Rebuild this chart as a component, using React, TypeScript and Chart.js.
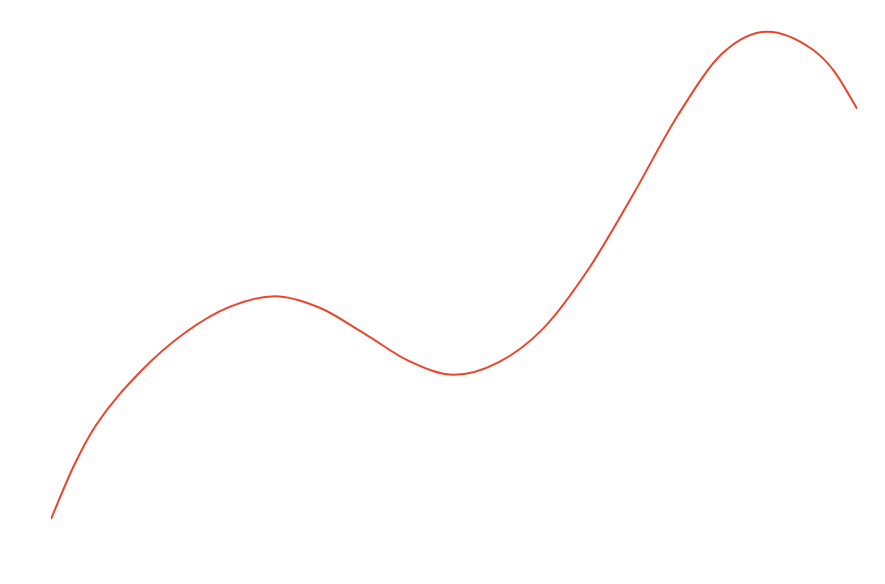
import React, { useEffect, useRef } from "react";
import { Chart, registerables } from "chart.js";

Chart.register(...registerables);

const xPositions = [
  0, 0.5, 1, 2, 3, 4, 5, 6, 7, 8, 9, 10,
  11, 12, 13, 14, 15, 16, 17, 17.5, 18,
];
const seriesValues = [
  9.1, 18.6, 26.1, 35.9, 43.0, 47.7, 49.6, 47.5, 42.8, 37.8, 35.3,
  37.6, 43.8, 54.5, 68.1, 82.5, 93.8, 97.7, 94.5, 90.4, 83.7,
];
const lineColor = "rgb(236, 68, 44)";

export default function App() {
  const ref = useRef<HTMLCanvasElement | null>(null);
  useEffect(() => {
    if (!ref.current) return;
    const points = xPositions.map((x, i) => ({ x, y: seriesValues[i] }));
    const chart = new Chart(ref.current, {
      type: "line",
      data: {
        datasets: [
          {
            data: points,
            borderColor: lineColor,
            backgroundColor: lineColor,
            borderWidth: 2,
            pointRadius: 0,
            pointHoverRadius: 0,
            cubicInterpolationMode: "monotone",
            fill: false,
          },
        ],
      },
      options: {
        animation: false,
        responsive: true,
        maintainAspectRatio: false,
        layout: { autoPadding: false, padding: { left: 43, right: 20, top: 11, bottom: 7 } },
        plugins: { legend: { display: false }, tooltip: { enabled: false } },
        scales: {
          x: { type: "linear", display: false, min: 0, max: 18 },
          y: { display: false, min: 0, max: 100 },
        },
      },
    });
    return () => chart.destroy();
  }, []);
  return (
    <div style={{ position: "relative", width: "869px", height: "568px" }}>
      <canvas ref={ref} />
    </div>
  );
}
